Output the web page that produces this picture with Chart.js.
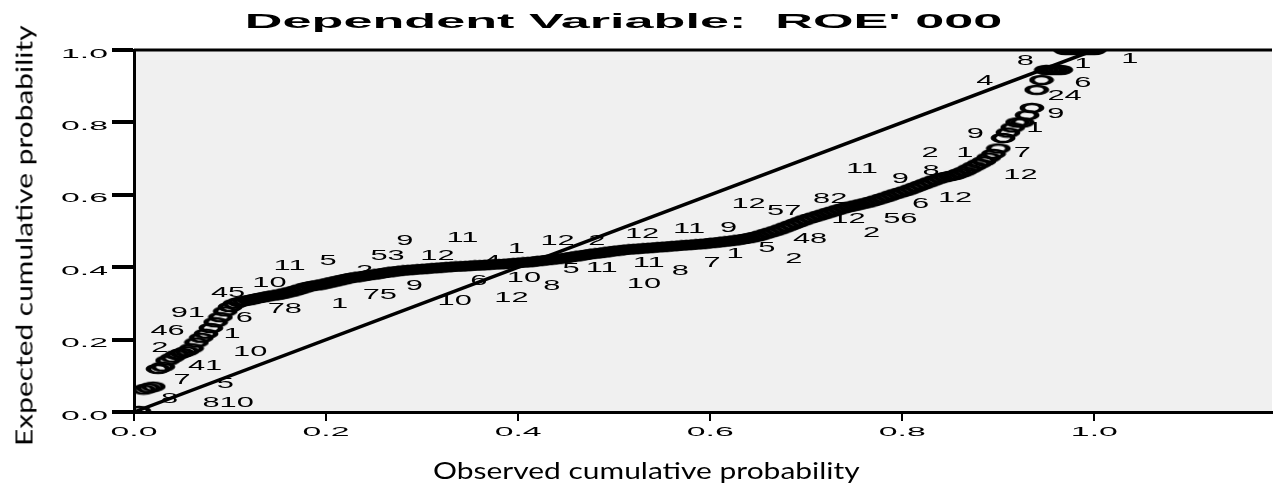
<!DOCTYPE html>
<html>
<head>
<meta charset="utf-8">
<script src="https://cdn.jsdelivr.net/npm/chart.js@4.4.1/dist/chart.umd.min.js"></script>
<style>
    body { margin: 0; background: #fff; }
    #wrap { position: relative; width: 1279px; height: 489px; }
    .txt { position: absolute; left: 0; top: 0; white-space: pre; line-height: 1; color: #000; transform-origin: 50% 50%; }
    #title { font: bold 19.5px "Liberation Sans", Arial, sans-serif; }
    .axt { font-family: Lato, "Open Sans", sans-serif; font-size: 23.5px; }
</style>
</head>
<body>
<div id="wrap">
    <canvas id="ppChart" width="1279" height="489"></canvas>
    <div id="title" class="txt">Dependent Variable:  ROE' 000</div>
    <div id="xTitle" class="txt axt">Observed cumulative probability</div>
    <div id="yTitle" class="txt axt">Expected cumulative probability</div>
</div>
<script>
// Xác suất tích lũy quan sát (trục x)
const observedProb = [
    0.005, 0.01, 0.015, 0.02, 0.025, 0.03, 0.035, 0.04, 0.045, 0.05,
    0.055, 0.06, 0.065, 0.07, 0.075, 0.08, 0.085, 0.09, 0.095, 0.1,
    0.105, 0.11, 0.115, 0.12, 0.125, 0.13, 0.135, 0.14, 0.145, 0.15,
    0.155, 0.16, 0.165, 0.17, 0.175, 0.18, 0.185, 0.19, 0.195, 0.2,
    0.205, 0.21, 0.215, 0.22, 0.225, 0.23, 0.235, 0.24, 0.245, 0.25,
    0.255, 0.26, 0.265, 0.27, 0.275, 0.28, 0.285, 0.29, 0.295, 0.3,
    0.305, 0.31, 0.315, 0.32, 0.325, 0.33, 0.335, 0.34, 0.345, 0.35,
    0.355, 0.36, 0.365, 0.37, 0.375, 0.38, 0.385, 0.39, 0.395, 0.4,
    0.405, 0.41, 0.415, 0.42, 0.425, 0.43, 0.435, 0.44, 0.445, 0.45,
    0.455, 0.46, 0.465, 0.47, 0.475, 0.48, 0.485, 0.49, 0.495, 0.5,
    0.505, 0.51, 0.515, 0.52, 0.525, 0.53, 0.535, 0.54, 0.545, 0.55,
    0.555, 0.56, 0.565, 0.57, 0.575, 0.58, 0.585, 0.59, 0.595, 0.6,
    0.605, 0.61, 0.615, 0.62, 0.625, 0.63, 0.635, 0.64, 0.645, 0.65,
    0.655, 0.66, 0.665, 0.67, 0.675, 0.68, 0.685, 0.69, 0.695, 0.7,
    0.705, 0.71, 0.715, 0.72, 0.725, 0.73, 0.735, 0.74, 0.745, 0.75,
    0.755, 0.76, 0.765, 0.77, 0.775, 0.78, 0.785, 0.79, 0.795, 0.8,
    0.805, 0.81, 0.815, 0.82, 0.825, 0.83, 0.835, 0.84, 0.845, 0.85,
    0.855, 0.86, 0.865, 0.87, 0.875, 0.88, 0.885, 0.89, 0.895, 0.9,
    0.905, 0.91, 0.915, 0.92, 0.925, 0.93, 0.935, 0.94, 0.945, 0.95,
    0.955, 0.96, 0.965, 0.97, 0.975, 0.98, 0.985, 0.99, 0.995, 1.0
];
// Xác suất tích lũy kỳ vọng (trục y)
const expectedProb = [
    0.003, 0.062, 0.066, 0.070, 0.119, 0.125, 0.142, 0.150, 0.158, 0.163,
    0.168, 0.176, 0.192, 0.205, 0.216, 0.232, 0.248, 0.262, 0.278, 0.290,
    0.299, 0.304, 0.307, 0.309, 0.312, 0.315, 0.317, 0.320, 0.322, 0.324,
    0.327, 0.330, 0.333, 0.337, 0.341, 0.345, 0.348, 0.350, 0.352, 0.355,
    0.358, 0.361, 0.364, 0.367, 0.370, 0.372, 0.374, 0.376, 0.378, 0.380,
    0.382, 0.384, 0.386, 0.388, 0.389, 0.391, 0.392, 0.393, 0.394, 0.395,
    0.396, 0.397, 0.398, 0.399, 0.400, 0.401, 0.402, 0.402, 0.403, 0.404,
    0.405, 0.405, 0.406, 0.407, 0.408, 0.408, 0.409, 0.410, 0.411, 0.412,
    0.413, 0.414, 0.415, 0.417, 0.418, 0.420, 0.421, 0.423, 0.424, 0.426,
    0.428, 0.430, 0.432, 0.434, 0.436, 0.438, 0.439, 0.441, 0.443, 0.445,
    0.446, 0.448, 0.449, 0.450, 0.451, 0.452, 0.453, 0.454, 0.455, 0.456,
    0.457, 0.458, 0.459, 0.460, 0.461, 0.462, 0.463, 0.464, 0.465, 0.467,
    0.468, 0.469, 0.471, 0.472, 0.474, 0.476, 0.478, 0.480, 0.483, 0.486,
    0.490, 0.494, 0.498, 0.502, 0.507, 0.512, 0.517, 0.522, 0.527, 0.532,
    0.536, 0.540, 0.544, 0.548, 0.552, 0.556, 0.560, 0.564, 0.567, 0.570,
    0.573, 0.576, 0.579, 0.583, 0.587, 0.591, 0.595, 0.600, 0.604, 0.608,
    0.612, 0.617, 0.622, 0.627, 0.632, 0.637, 0.642, 0.646, 0.649, 0.652,
    0.655, 0.660, 0.665, 0.672, 0.679, 0.686, 0.693, 0.703, 0.713, 0.728,
    0.757, 0.772, 0.786, 0.800, 0.800, 0.820, 0.840, 0.890, 0.917, 0.945,
    0.945, 0.945, 0.945, 1.000, 1.000, 1.000, 1.000, 1.000, 1.000, 1.000
];
// Đường chéo tham chiếu
const diagonalX = [0, 1];
const diagonalY = [0, 1];

const xTickLabels = ['0.0', '0.2', '0.4', '0.6', '0.8', '1.0'];
const yTickLabels = ['0.0', '0.2', '0.4', '0.6', '0.8', '1.0'];

// Nhãn số của các quan sát
const caseText = ['45', '10', '91', '6', '78', '1', '75', '9', '46', '1',
    '2', '10', '41', '7', '5', '8', '810', '11', '5', '53',
    '12', '9', '11', '2', '4', '1', '12', '2', '12', '11',
    '9', '6', '10', '10', '12', '8', '5', '11', '11', '10',
    '8', '7', '1', '5', '2', '48', '12', '57', '82', '12',
    '2', '11', '9', '8', '2', '1', '9', '7', '12', '12',
    '6', '56', '8', '1', '1', '4', '6', '24', '9', '1'];
const caseX = [0.098, 0.141, 0.056, 0.115, 0.157, 0.214, 0.256, 0.292, 0.035, 0.102,
    0.027, 0.121, 0.074, 0.050, 0.095, 0.037, 0.098, 0.162, 0.202, 0.264,
    0.316, 0.282, 0.342, 0.240, 0.373, 0.398, 0.441, 0.482, 0.529, 0.578,
    0.619, 0.359, 0.334, 0.406, 0.393, 0.435, 0.455, 0.487, 0.536, 0.531,
    0.569, 0.602, 0.626, 0.659, 0.687, 0.704, 0.640, 0.677, 0.725, 0.744,
    0.768, 0.758, 0.798, 0.830, 0.829, 0.865, 0.876, 0.925, 0.923, 0.855,
    0.819, 0.798, 0.928, 0.988, 1.037, 0.886, 0.988, 0.969, 0.960, 0.938];
const caseY = [0.331, 0.359, 0.276, 0.262, 0.287, 0.301, 0.326, 0.351, 0.227, 0.218,
    0.180, 0.169, 0.130, 0.091, 0.080, 0.039, 0.028, 0.406, 0.420, 0.434,
    0.434, 0.475, 0.483, 0.392, 0.420, 0.453, 0.475, 0.475, 0.494, 0.508,
    0.511, 0.365, 0.309, 0.373, 0.318, 0.351, 0.398, 0.401, 0.414, 0.356,
    0.392, 0.414, 0.439, 0.456, 0.425, 0.481, 0.577, 0.558, 0.591, 0.536,
    0.497, 0.674, 0.646, 0.669, 0.718, 0.718, 0.771, 0.718, 0.657, 0.594,
    0.577, 0.536, 0.972, 0.964, 0.978, 0.917, 0.912, 0.876, 0.826, 0.787];

let ppChart = null;

// Vòng tròn bị kéo giãn ngang như hình gốc
function makeRing() {
    const c = document.createElement('canvas');
    c.width = 26;
    c.height = 12;
    const g = c.getContext('2d');
    g.save();
    g.translate(13, 6);
    g.scale(2.4, 1);
    g.beginPath();
    g.arc(0, 0, 4, 0, Math.PI * 2);
    g.lineWidth = 2.3;
    g.strokeStyle = '#000';
    g.stroke();
    g.restore();
    return c;
}

function wideText(ctx, text, x, y, sx, align) {
    ctx.save();
    ctx.translate(x, y);
    ctx.scale(sx, 1);
    ctx.textAlign = align;
    ctx.fillText(text, 0, 0);
    ctx.restore();
}

const framePlugin = {
    id: 'frame',
    beforeDraw(chart) {
        const a = chart.chartArea;
        const ctx = chart.ctx;
        ctx.save();
        ctx.fillStyle = '#f0f0f0';
        ctx.fillRect(a.left, a.top, a.right - a.left, a.bottom - a.top);
        ctx.restore();
    },
    afterDraw(chart) {
        const a = chart.chartArea;
        const ctx = chart.ctx;
        const xs = chart.scales.x;
        const ys = chart.scales.y;
        ctx.save();
        ctx.strokeStyle = '#000';
        ctx.lineWidth = 3;
        ctx.beginPath();
        ctx.moveTo(a.left, a.top);
        ctx.lineTo(a.right, a.top);
        ctx.stroke();

        // tick labels, kéo giãn ngang
        ctx.fillStyle = '#000';
        ctx.textBaseline = 'alphabetic';
        ctx.font = '13px "Liberation Sans", Arial, sans-serif';
        ys.ticks.forEach(t => {
            if (!t.label) return;
            wideText(ctx, t.label, a.left - 26, ys.getPixelForValue(t.value) + 7.5, 2.6, 'right');
        });
        xs.ticks.forEach(t => {
            if (!t.label) return;
            wideText(ctx, t.label, xs.getPixelForValue(t.value), a.bottom + 23.5, 2.6, 'center');
        });

        // nhãn quan sát
        ctx.font = '14px "Liberation Sans", Arial, sans-serif';
        caseText.forEach((txt, i) => {
            const px = xs.getPixelForValue(caseX[i]);
            const py = ys.getPixelForValue(caseY[i]);
            if (px > a.right) return;
            wideText(ctx, txt, px, py + 5, 2.2, 'center');
        });
        ctx.restore();
    }
};

function drawChart() {
    if (ppChart) {
        ppChart.destroy();
    }

    const ring = makeRing();

    const data = {
        datasets: [{
            label: 'diagonal',
            data: diagonalX.map((x, i) => ({ x: x, y: diagonalY[i] })),
            showLine: true,
            borderColor: '#000',
            borderWidth: 3.5,
            pointRadius: 0,
        }, {
            label: 'ROE',
            data: observedProb.map((x, i) => ({ x: x, y: expectedProb[i] })),
            showLine: false,
            pointStyle: ring,
            pointRadius: 6,
            clip: 0,
        }]
    };

    const config = {
        type: 'scatter',
        data: data,
        options: {
            responsive: false,
            animation: false,
            layout: { padding: { top: 50, right: 2, left: 0, bottom: 0 } },
            plugins: {
                legend: { display: false },
                tooltip: { enabled: false }
            },
            scales: {
                x: {
                    type: 'linear',
                    min: 0,
                    max: 1.185,
                    afterFit: s => { s.height = 77; },
                    border: { display: true, color: '#000', width: 3 },
                    grid: { drawOnChartArea: false, drawTicks: true, tickLength: 9, lineWidth: 2, color: '#000' },
                    ticks: {
                        stepSize: 0.2,
                        includeBounds: false,
                        color: 'rgba(0,0,0,0)',
                        callback: (v, i) => xTickLabels[i] || ''
                    }
                },
                y: {
                    type: 'linear',
                    min: 0,
                    max: 1,
                    afterFit: s => { s.width = 134; },
                    border: { display: true, color: '#000', width: 3 },
                    grid: { drawOnChartArea: false, drawTicks: true, tickLength: 22, lineWidth: 4, color: '#000' },
                    ticks: {
                        stepSize: 0.2,
                        color: 'rgba(0,0,0,0)',
                        callback: (v, i) => yTickLabels[i] || ''
                    }
                }
            }
        },
        plugins: [framePlugin]
    };

    ppChart = new Chart(document.getElementById('ppChart'), config);
}

// Đặt các tiêu đề HTML, kéo giãn cho khớp độ dài
function fitText(id, cx, cy, span, rotate) {
    const el = document.getElementById(id);
    const w = el.offsetWidth;
    const h = el.offsetHeight;
    el.style.left = (cx - w / 2) + 'px';
    el.style.top = (cy - h / 2) + 'px';
    el.style.transform = (rotate ? 'rotate(-90deg) ' : '') + 'scaleX(' + (span / w) + ')';
}

drawChart();
fitText('title', 623, 21, 757, false);
fitText('xTitle', 646, 471, 427, false);
fitText('yTitle', 24, 236, 420, true);
</script>
</body>
</html>
